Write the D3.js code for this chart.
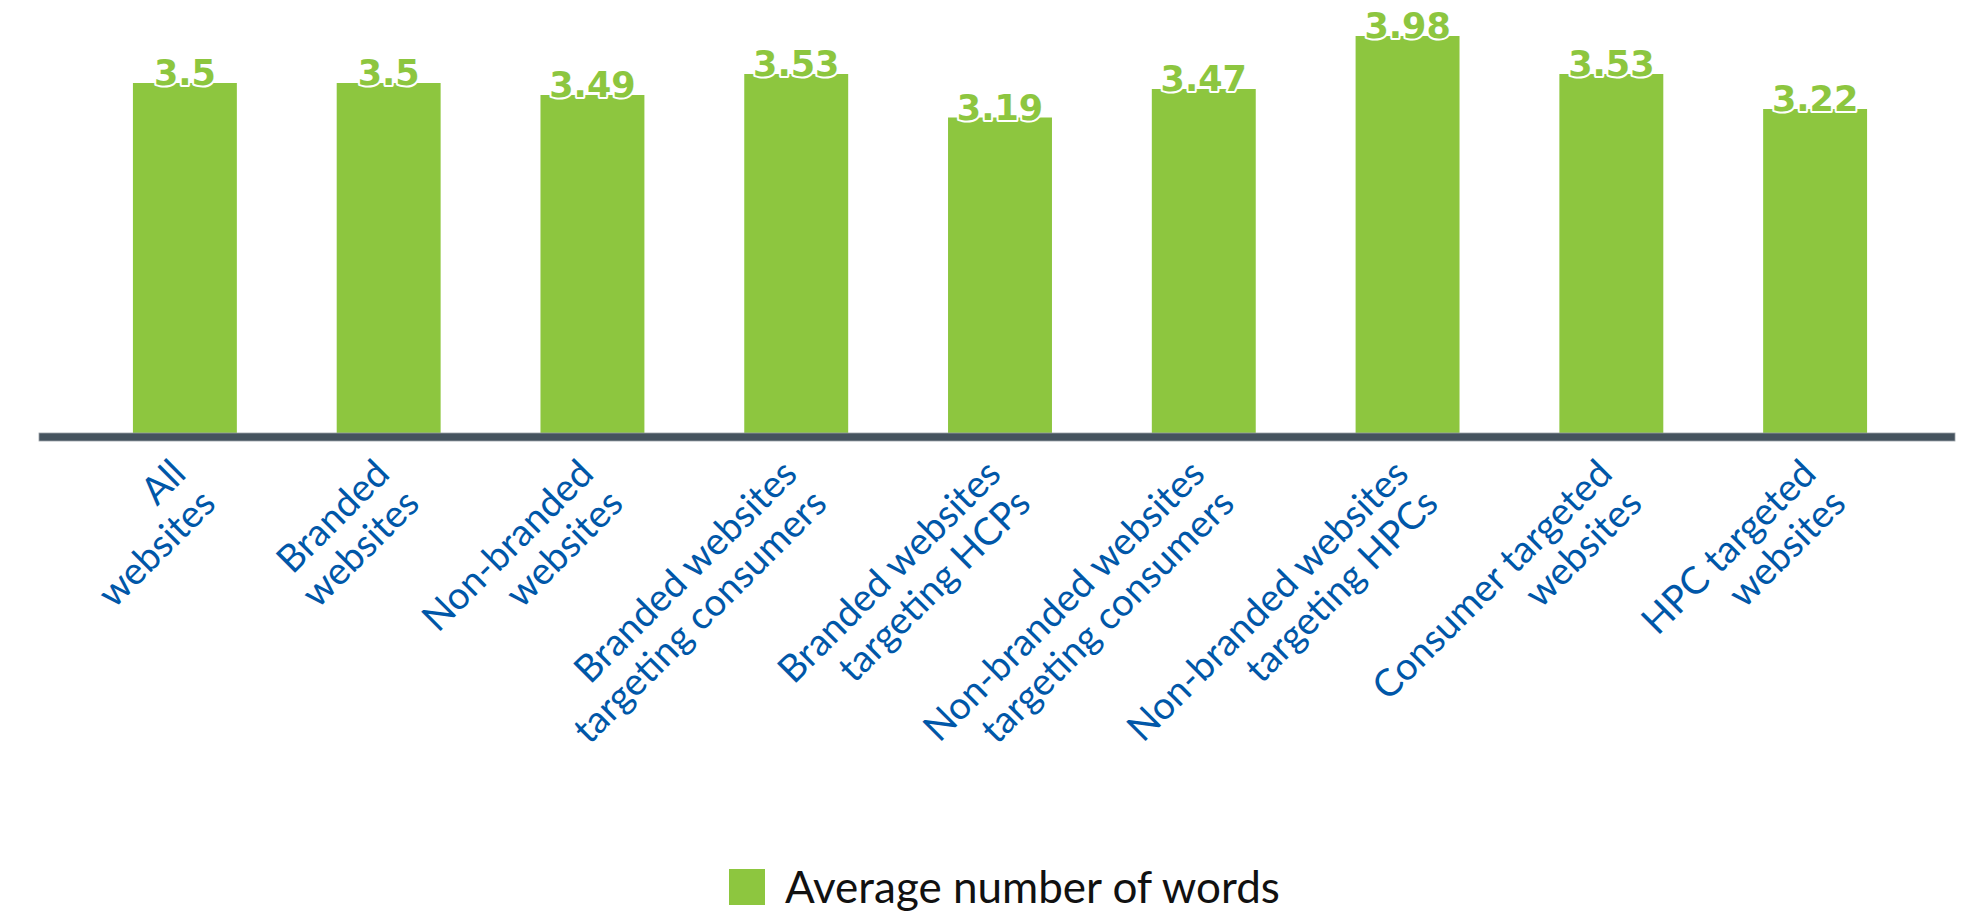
<!DOCTYPE html>
<html>
<head>
<meta charset="utf-8">
<script src="https://cdn.jsdelivr.net/npm/d3@7"></script>
<style>
  body { margin: 0; background: #fff; }
</style>
</head>
<body>
<div id="chart"></div>
<script>

// categories, each split into its two printed lines
var categories = ["All websites", "Branded websites", "Non-branded websites",
    "Branded websites targeting consumers", "Branded websites targeting HCPs",
    "Non-branded websites targeting consumers", "Non-branded websites targeting HPCs",
    "Consumer targeted websites", "HPC targeted websites"]
var cat_lines = [["All", "websites"], ["Branded", "websites"], ["Non-branded", "websites"],
    ["Branded websites", "targeting consumers"], ["Branded websites", "targeting HCPs"],
    ["Non-branded websites", "targeting consumers"], ["Non-branded websites", "targeting HPCs"],
    ["Consumer targeted", "websites"], ["HPC targeted", "websites"]]

// bar heights as drawn, and the numbers printed on them
var values = [3.5, 3.5, 3.38, 3.59, 3.155, 3.44, 3.97, 3.59, 3.24]
var value_labels = ["3.5", "3.5", "3.49", "3.53", "3.19", "3.47", "3.98", "3.53", "3.22"]

var series_name = "Average number of words"

var w = 1961
var h = 914
var base = 433
var green = "#8dc63f"
var blue = "#0057a8"

var svg = d3.select("#chart")
    .append("svg")
    .attr("width", w)
    .attr("height", h)

var x = d3.scaleBand()
    .domain(categories)
    .range([83, 1917])
    .paddingInner(0.49)
    .paddingOuter(0.245)

var y = d3.scaleLinear()
    .domain([0, 4.33])
    .range([base, 0])

var rows = categories.map(function (c, i) {
    return {cat: c, v: values[i], label: value_labels[i], lines: cat_lines[i]}
})

svg.selectAll("rect.bar")
    .data(rows)
    .enter()
    .append("rect")
    .attr("class", "bar")
    .attr("x", function (d) { return x(d.cat) })
    .attr("width", x.bandwidth())
    .attr("y", function (d) { return y(d.v) })
    .attr("height", function (d) { return base - y(d.v) })
    .style("fill", green)

// value labels: heavy green digits with a white rim
svg.selectAll("text.val")
    .data(rows)
    .enter()
    .append("text")
    .attr("class", "val")
    .attr("x", function (d) { return x(d.cat) + x.bandwidth() / 2 })
    .attr("y", function (d) { return y(d.v) + 2 })
    .attr("text-anchor", "middle")
    .style("font-family", "'DejaVu Sans', sans-serif")
    .style("font-weight", "bold")
    .style("font-size", "35px")
    .style("fill", green)
    .style("stroke", "#fff")
    .style("stroke-width", 4)
    .style("paint-order", "stroke")
    .style("stroke-linejoin", "round")
    .text(function (d) { return d.label })

// axis line
svg.append("rect")
    .attr("x", 39)
    .attr("y", base)
    .attr("width", 1955 - 39)
    .attr("height", 8)
    .style("fill", "#45535e")
    .style("stroke", "#9aa1a7")
    .style("stroke-width", 0.8)

// rotated category labels
var cats = svg.selectAll("g.cat")
    .data(rows)
    .enter()
    .append("g")
    .attr("class", "cat")
    .attr("transform", function (d) {
        return "translate(" + (x(d.cat) + x.bandwidth() / 2 + 3) + "," + 476 + ") rotate(-45)"
    })

cats.append("text")
    .attr("text-anchor", "end")
    .style("font-family", "Lato, 'Noto Sans', sans-serif")
    .style("font-size", "38px")
    .style("fill", blue)
    .selectAll("tspan")
    .data(function (d) { return d.lines })
    .enter()
    .append("tspan")
    .attr("x", 0)
    .attr("y", function (d, i) { return i * 42 })
    .text(function (d) { return d })

// legend
var legend = svg.append("g")
    .attr("transform", "translate(729,869)")
legend.append("rect")
    .attr("width", 36)
    .attr("height", 36)
    .style("fill", green)
legend.append("text")
    .attr("x", 56)
    .attr("y", 34)
    .style("font-family", "Lato, 'Noto Sans', sans-serif")
    .style("font-size", "44px")
    .style("fill", "#111")
    .text(series_name)

</script>
</body>
</html>
